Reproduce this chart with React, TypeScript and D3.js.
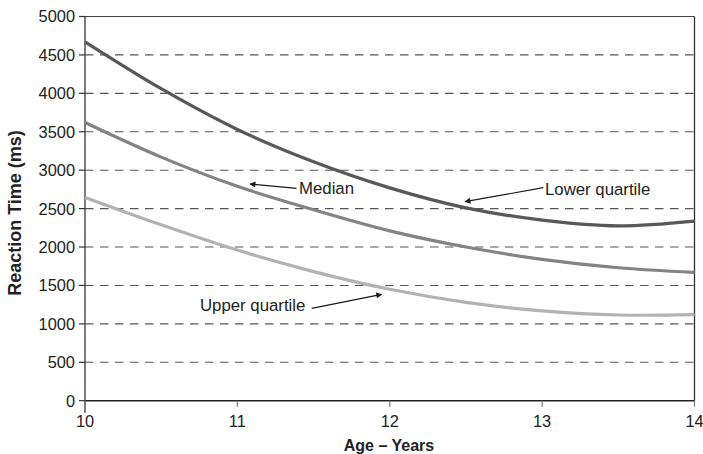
import React from "react";
import * as d3 from "d3";

const ages = [10, 10.5, 11, 11.5, 12, 12.5, 13, 13.5, 14];
const lowerQuartile = [4670, 4060, 3530, 3110, 2770, 2510, 2350, 2275, 2337];
const median = [3620, 3170, 2790, 2485, 2210, 2000, 1840, 1730, 1670];
const upperQuartile = [2646, 2290, 1960, 1680, 1450, 1280, 1170, 1115, 1120];
const yTicks = [0, 500, 1000, 1500, 2000, 2500, 3000, 3500, 4000, 4500, 5000];
const xTicks = [10, 11, 12, 13, 14];

const W = 703;
const H = 454;
const FONT = "'Liberation Sans', Arial, Helvetica, sans-serif";

export default function App() {
  const x = d3.scaleLinear().domain([10, 14]).range([85, 694.5]);
  const y = d3.scaleLinear().domain([0, 5000]).range([400.7, 16.5]);
  const line = (vals: number[]) =>
    d3
      .line<number>()
      .x((_, i) => x(ages[i]))
      .y((v) => y(v))
      .curve(d3.curveCatmullRom.alpha(0.5))(vals) || "";

  const series = [
    { vals: lowerQuartile, color: "#58585a" },
    { vals: median, color: "#838385" },
    { vals: upperQuartile, color: "#b2b2b4" },
  ];

  return (
    <svg
      width={W}
      height={H}
      style={{ position: "absolute", left: 0, top: 0, background: "#fff" }}
      fontFamily={FONT}
    >
      <defs>
        <marker
          id="ah"
          viewBox="0 0 10 10"
          refX="9"
          refY="5"
          markerWidth="8"
          markerHeight="6"
          markerUnits="userSpaceOnUse"
          orient="auto"
        >
          <path d="M0,0 L10,5 L0,10 z" fill="#1a1a1a" />
        </marker>
      </defs>
      {/* gridlines */}
      {yTicks
        .filter((t) => t > 0 && t < 5000)
        .map((t) => (
          <line
            key={t}
            x1={x(10)}
            x2={x(14)}
            y1={y(t)}
            y2={y(t)}
            stroke="#555"
            strokeWidth={1.1}
            strokeDasharray="8.5,6.5"
          />
        ))}
      {/* box */}
      <line x1={x(10)} x2={x(14)} y1={y(5000)} y2={y(5000)} stroke="#444" strokeWidth={1.2} />
      <line x1={x(14)} x2={x(14)} y1={y(5000)} y2={y(0)} stroke="#333" strokeWidth={1.3} />
      <line x1={x(10)} x2={x(14)} y1={y(0)} y2={y(0)} stroke="#222" strokeWidth={1.4} />
      <line x1={x(10)} x2={x(10)} y1={y(5000)} y2={y(0) + 12} stroke="#444" strokeWidth={1.4} />
      {/* y ticks */}
      {yTicks.map((t) => (
        <g key={t}>
          <line x1={79} x2={x(10)} y1={y(t)} y2={y(t)} stroke="#333" strokeWidth={1.2} />
          <text
            x={75}
            y={y(t)}
            dy="0.36em"
            textAnchor="end"
            fontSize={16.4}
            fill="#222"
          >
            {t}
          </text>
        </g>
      ))}
      {/* x ticks */}
      {xTicks.map((t) => (
        <g key={t}>
          <line x1={x(t)} x2={x(t)} y1={y(0)} y2={y(0) + 6} stroke="#777" strokeWidth={1.2} />
          <text x={x(t)} y={427} textAnchor="middle" fontSize={16.4} fill="#222">
            {t}
          </text>
        </g>
      ))}
      {/* series */}
      {series.map((s, i) => (
        <path key={i} d={line(s.vals)} fill="none" stroke={s.color} strokeWidth={3.2} />
      ))}
      {/* annotations */}
      <line x1={296.5} y1={188.3} x2={250} y2={184} stroke="#1a1a1a" strokeWidth={1.2} markerEnd="url(#ah)" />
      <text x={299} y={188} dy="0.36em" fontSize={16.8} fill="#222">
        Median
      </text>
      <line x1={543.3} y1={187.7} x2={465} y2={201.7} stroke="#1a1a1a" strokeWidth={1.2} markerEnd="url(#ah)" />
      <text x={545} y={189} dy="0.36em" fontSize={16.8} fill="#222">
        Lower quartile
      </text>
      <line x1={311.7} y1={308.3} x2={381.7} y2={294.3} stroke="#1a1a1a" strokeWidth={1.2} markerEnd="url(#ah)" />
      <text x={200} y={305} dy="0.36em" fontSize={16.8} fill="#222">
        Upper quartile
      </text>
      {/* axis titles */}
      <text
        transform={`translate(21,213) rotate(-90)`}
        textAnchor="middle"
        fontSize={18}
        fontWeight="bold"
        fill="#222"
      >
        Reaction Time (ms)
      </text>
      <text x={389} y={451} textAnchor="middle" fontSize={16} fontWeight="bold" fill="#222">
        Age – Years
      </text>
    </svg>
  );
}
